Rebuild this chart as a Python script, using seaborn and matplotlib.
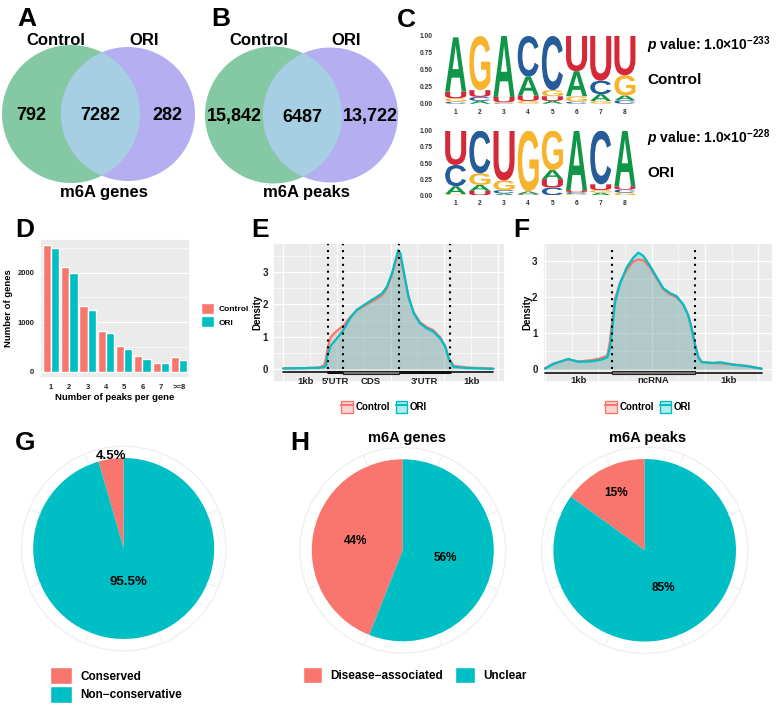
import numpy as np
import pandas as pd
import matplotlib
matplotlib.use('Agg')
import matplotlib.pyplot as plt
import matplotlib.transforms as mtransforms
import seaborn as sns
from matplotlib.patches import Circle, Rectangle, Patch, PathPatch
from matplotlib.lines import Line2D
from matplotlib.textpath import TextPath
from matplotlib.font_manager import FontProperties

# ---- data ----
venn_genes = [792, 7282, 282]
venn_peaks = ['15,842', '6487', '13,722']

# sequence logo probabilities, positions 1..8
ctrl_A = [0.80, 0.04, 0.90, 0.28, 0.04, 0.37, 0.10, 0.07]
ctrl_C = [0.03, 0.06, 0.01, 0.60, 0.80, 0.03, 0.20, 0.05]
ctrl_G = [0.05, 0.80, 0.01, 0.04, 0.09, 0.08, 0.04, 0.30]
ctrl_U = [0.10, 0.10, 0.08, 0.08, 0.07, 0.52, 0.66, 0.58]
ori_A = [0.12, 0.09, 0.03, 0.04, 0.14, 0.92, 0.04, 0.86]
ori_C = [0.33, 0.66, 0.05, 0.01, 0.12, 0.03, 0.83, 0.05]
ori_G = [0.02, 0.18, 0.15, 0.94, 0.61, 0.02, 0.04, 0.04]
ori_U = [0.53, 0.07, 0.77, 0.01, 0.13, 0.03, 0.09, 0.05]

peak_bins = ['1', '2', '3', '4', '5', '6', '7', '>=8']
genes_control = [2560, 2115, 1327, 830, 520, 310, 182, 290]
genes_ori = [2500, 2000, 1253, 775, 465, 250, 170, 230]

# metagene profile (mRNA)
e_pos = [0.00, 0.50, 0.80, 0.92, 0.96, 0.98, 1.02, 1.06, 1.12, 1.20, 1.35, 1.50, 1.65,
         1.87, 2.10, 2.21, 2.32, 2.43, 2.51, 2.57, 2.62, 2.69, 2.80, 2.92, 3.06, 3.21,
         3.36, 3.51, 3.62, 3.70, 3.81, 4.11, 4.70]
e_ctrl = [0.02, 0.03, 0.05, 0.12, 0.38, 0.55, 0.80, 0.98, 1.08, 1.18, 1.35, 1.62, 1.82,
          2.00, 2.18, 2.28, 2.50, 2.90, 3.30, 3.58, 3.48, 3.00, 2.25, 1.75, 1.45, 1.30,
          1.20, 0.98, 0.72, 0.35, 0.10, 0.05, 0.01]
e_ori = [0.02, 0.03, 0.04, 0.06, 0.12, 0.38, 0.55, 0.72, 0.82, 0.95, 1.22, 1.58, 1.84,
         2.04, 2.24, 2.34, 2.55, 2.96, 3.37, 3.68, 3.58, 3.06, 2.24, 1.72, 1.41, 1.26,
         1.15, 0.95, 0.70, 0.33, 0.07, 0.03, 0.01]
e_bounds = [0, 1, 1.34, 2.59, 3.72, 4.7]
e_regions = ['1kb', "5'UTR", 'CDS', "3'UTR", '1kb']

# metagene profile (ncRNA)
f_pos = [0.000, 0.125, 0.350, 0.500, 0.675, 0.825, 0.935, 0.975, 1.015, 1.050, 1.125,
         1.225, 1.325, 1.400, 1.475, 1.575, 1.675, 1.775, 1.875, 1.975, 2.075, 2.150,
         2.200, 2.250, 2.300, 2.350, 2.525, 2.625, 2.825, 3.025, 3.250]
f_ctrl = [0.03, 0.16, 0.28, 0.22, 0.25, 0.30, 0.38, 0.78, 1.45, 1.95, 2.40, 2.75, 3.00,
          3.05, 3.03, 2.83, 2.52, 2.22, 2.08, 2.00, 1.80, 1.50, 1.15, 0.70, 0.35, 0.21,
          0.17, 0.17, 0.14, 0.10, 0.02]
f_ori = [0.02, 0.15, 0.29, 0.21, 0.22, 0.26, 0.33, 0.60, 1.22, 1.85, 2.38, 2.83, 3.10,
         3.24, 3.15, 2.88, 2.56, 2.25, 2.12, 2.03, 1.80, 1.49, 1.13, 0.69, 0.33, 0.20,
         0.18, 0.20, 0.13, 0.09, 0.02]
f_bounds = [0, 1, 2.25, 3.25]
f_regions = ['1kb', 'ncRNA', '1kb']

conserv_labels = ['Conserved', 'Non\u2212conservative']
conserv_pct = [4.5, 95.5]
disease_labels = ['Disease\u2212associated', 'Unclear']
genes_pct = [44, 56]
peaks_pct = [15, 85]

# ---- style ----
salmon = '#F8766D'
teal = '#00BFC4'
base_cols = {'A': '#109648', 'C': '#255C99', 'G': '#F7B32B', 'U': '#D62839'}

sns.set_theme(style='darkgrid', rc={'axes.facecolor': '#EBEBEB', 'grid.color': 'white',
                                    'grid.linewidth': 0.9})
plt.rcParams['font.family'] = ['Liberation Sans', 'DejaVu Sans']
plt.rcParams['font.weight'] = 'bold'
plt.rcParams['axes.labelweight'] = 'bold'
plt.rcParams['text.color'] = 'black'
plt.rcParams['axes.labelcolor'] = 'black'
plt.rcParams['mathtext.fontset'] = 'custom'
plt.rcParams['mathtext.rm'] = 'Liberation Sans:bold'
plt.rcParams['mathtext.it'] = 'Liberation Sans:italic:bold'
plt.rcParams['mathtext.bf'] = 'Liberation Sans:bold'

W, H = 784, 724
fig = plt.figure(figsize=(W / 100, H / 100), dpi=100)


def px_axes(l, t, r, b):
    return fig.add_axes([l / W, 1 - b / H, (r - l) / W, (b - t) / H])


# overlay for venns, panel letters and free text
ax0 = fig.add_axes([0, 0, 1, 1])
ax0.set_xlim(0, W)
ax0.set_ylim(H, 0)
ax0.axis('off')

for lab, (x, y) in zip('ABCDEFGH', [(27, 19), (221, 19), (406, 20), (25, 230),
                                     (260, 230), (521, 230), (25, 443), (300, 443)]):
    ax0.text(x, y, lab, fontsize=19, weight='bold', ha='center', va='center')


# ---- A / B venns ----
def venn(cl, r1, cr, r2, nums, title):
    green, purple, mix = '#84C9A3', '#B5AEF0', '#A7CFE3'
    c1 = Circle(cl, r1, fc=green, ec='none')
    c2 = Circle(cr, r2, fc=purple, ec='none')
    ax0.add_patch(c1)
    ax0.add_patch(c2)
    c3 = Circle(cl, r1, fc=mix, ec='none')
    ax0.add_patch(c3)
    c3.set_clip_path(c2)
    y = cl[1]
    x_l = cl[0] - r1
    x_r = cr[0] + r2
    ov_l, ov_r = cr[0] - r2, cl[0] + r1
    for x, n in zip([(x_l + ov_l) / 2, (ov_l + ov_r) / 2, (ov_r + x_r) / 2], nums):
        ax0.text(x, y + 2, str(n), fontsize=13, weight='bold', ha='center', va='center')
    ax0.text(cl[0] - 15, 40.5, 'Control', fontsize=12, weight='bold', ha='center', va='center')
    ax0.text(cr[0] + 16, 40.5, 'ORI', fontsize=12, weight='bold', ha='center', va='center')
    ax0.text((x_l + x_r) / 2 + 5, 193, title, fontsize=12, weight='bold', ha='center', va='center')


venn((71, 114), 69, (128, 114), 67, venn_genes, 'm6A genes')
venn((273.5, 115), 68.5, (330.5, 115), 67.5, venn_peaks, 'm6A peaks')

# ---- C sequence logos ----
fp = FontProperties(family='Liberation Sans', weight='bold')


def draw_logo(ax, cols):
    for i in range(8):
        stack = sorted([(cols[b][i], b) for b in 'ACGU'])
        y0 = 0
        for h, b in stack:
            tp = TextPath((0, 0), b, size=1, prop=fp)
            bb = tp.get_extents()
            tr = (mtransforms.Affine2D().translate(-bb.x0, -bb.y0)
                  .scale(0.87 / bb.width, h / bb.height).translate(i + 1 - 0.435, y0))
            ax.add_patch(PathPatch(tr.transform_path(tp), fc=base_cols[b], ec='none'))
            y0 += h
    ax.set_xlim(0.5, 8.5)
    ax.set_ylim(0, 1)
    ax.set_facecolor('white')
    ax.grid(False)
    for s in ax.spines.values():
        s.set_visible(False)
    ax.set_xticks(range(1, 9))
    ax.set_yticks([0, 0.25, 0.5, 0.75, 1.0])
    ax.set_yticklabels(['0.00', '0.25', '0.50', '0.75', '1.00'])
    ax.tick_params(axis='x', length=0, labelsize=4.8, pad=3.5, colors='#333333')
    ax.tick_params(axis='y', length=0, labelsize=4.8, pad=8, colors='#333333')


axC1 = px_axes(443.6, 36, 637, 103.7)
draw_logo(axC1, {'A': ctrl_A, 'C': ctrl_C, 'G': ctrl_G, 'U': ctrl_U})
axC2 = px_axes(443.6, 130.7, 637, 195.3)
draw_logo(axC2, {'A': ori_A, 'C': ori_C, 'G': ori_G, 'U': ori_U})

ax0.text(647, 45, r'$\mathit{p}$ value: 1.0×10$^{-233}$', fontsize=10, weight='bold', va='center')
ax0.text(647, 80, 'Control', fontsize=11, weight='bold', va='center')
ax0.text(647, 138, r'$\mathit{p}$ value: 1.0×10$^{-228}$', fontsize=10, weight='bold', va='center')
ax0.text(647, 173, 'ORI', fontsize=11, weight='bold', va='center')

# ---- D bar chart ----
df_d = pd.DataFrame({'bins': peak_bins * 2,
                     'count': genes_control + genes_ori,
                     'group': ['Control'] * 8 + ['ORI'] * 8})
axD = px_axes(40, 238.6, 190, 378)
sns.barplot(data=df_d, x='bins', y='count', hue='group', palette=[salmon, teal],
            width=0.9, saturation=1, legend=False, ax=axD)
axD.set_xlim(-0.6, 7.6)
axD.set_ylim(-128, 2688)
axD.set_yticks([0, 1000, 2000])
axD.set_yticks([500, 1500, 2500], minor=True)
axD.grid(which='minor', axis='y', color='white', lw=0.45)
axD.tick_params(length=2.5, width=0.6, color='#333333', labelsize=5.5, pad=1.5, labelcolor='#222222')
axD.tick_params(which='minor', length=0)
axD.set_xlabel('Number of peaks per gene', fontsize=6.8, labelpad=2)
axD.set_ylabel('Number of genes', fontsize=6.8, labelpad=3)
fig.legend(handles=[Patch(fc=salmon), Patch(fc=teal)], labels=['Control', 'ORI'],
           loc='center left', bbox_to_anchor=(201 / W, 1 - 315 / H), frameon=False,
           fontsize=6, handlelength=1.6, handleheight=1.6, handletextpad=0.5,
           labelspacing=0.35, borderpad=0, borderaxespad=0)


# ---- E / F metagene profiles ----
def profile(ax, pos, ctrl, ori, bounds, regions, ylim, xlim, grid_step, bar_y, lab_y, utr):
    df = pd.DataFrame({'pos': pos * 2, 'density': ctrl + ori,
                       'group': ['Control'] * len(pos) + ['ORI'] * len(pos)})
    ax.fill_between(pos, ctrl, color=salmon, alpha=0.25, lw=0)
    ax.fill_between(pos, ori, color=teal, alpha=0.25, lw=0)
    sns.lineplot(data=df, x='pos', y='density', hue='group', palette=[salmon, teal],
                 lw=1.6, legend=False, ax=ax)
    ax.set_xlim(*xlim)
    ax.set_ylim(*ylim)
    ax.set_xticks(np.arange(0, xlim[1], grid_step * 2))
    ax.set_xticks(np.arange(grid_step, xlim[1], grid_step * 2), minor=True)
    ax.set_xticklabels([])
    ax.set_yticks([0, 1, 2, 3])
    ax.set_yticks([0.5, 1.5, 2.5, 3.5], minor=True)
    ax.grid(which='minor', color='white', lw=0.45)
    ax.tick_params(axis='x', which='both', length=0)
    ax.tick_params(axis='y', length=2.5, width=0.6, color='#333333', labelsize=7, pad=1.2,
                   labelcolor='#222222')
    ax.tick_params(axis='y', which='minor', length=0)
    ax.set_xlabel('')
    ax.set_ylabel('Density', fontsize=7, labelpad=0)
    ax.vlines(bounds[1:-1], 0, ylim[1], colors='black', lw=1.5, linestyles=(0, (1, 2.3)))
    # gene structure
    ax.plot([bounds[0], bounds[-1]], [bar_y, bar_y], color='#111111', lw=1.2)
    for i, kind in enumerate(utr):
        if kind == 'utr':
            ax.plot([bounds[i], bounds[i + 1]], [bar_y, bar_y], color='#111111', lw=2.2)
        elif kind == 'box':
            ax.add_patch(Rectangle((bounds[i], bar_y - 0.05), bounds[i + 1] - bounds[i], 0.1,
                                   fc='#7A7A7A', ec='#222222', lw=0.8, zorder=3))
    for i, r in enumerate(regions):
        ax.text((bounds[i] + bounds[i + 1]) / 2, lab_y, r, fontsize=6.8, weight='bold',
                ha='center', va='center', color='#222222')


axE = px_axes(273, 243, 505, 382)
profile(axE, e_pos, e_ctrl, e_ori, e_bounds, e_regions, (-0.40, 3.90), (-0.23, 4.96), 0.6,
        -0.10, -0.37, ['line', 'utr', 'box', 'utr', 'line'])
axF = px_axes(542.7, 243.3, 773, 382)
profile(axF, f_pos, f_ctrl, f_ori, f_bounds, f_regions, (-0.35, 3.37), (-0.034, 3.42), 0.4,
        -0.09, -0.32, ['line', 'box', 'line'])

for cx in [384, 648]:
    hs = [(Patch(fc=(*matplotlib.colors.to_rgb(c), 0.3), ec=c, lw=1.0),
           Line2D([], [], color=c, lw=1.5)) for c in [salmon, teal]]
    fig.legend(handles=hs, labels=['Control', 'ORI'], loc='center',
               bbox_to_anchor=(cx / W, 1 - 407 / H), ncol=2, frameon=False, fontsize=7,
               handlelength=1.2, handleheight=1.6, handletextpad=0.25, columnspacing=0.6)


# ---- G / H pies ----
def pie(cx, cy, R, pct, lab_r, fsize):
    s = R * 1.25
    ax = px_axes(cx - s, cy - s, cx + s, cy + s)
    ax.pie(pct, colors=[salmon, teal], startangle=90, counterclock=True, radius=1,
           wedgeprops=dict(lw=0))
    ax.set_xlim(-1.25, 1.25)
    ax.set_ylim(-1.25, 1.25)
    ring = Circle((0, 0), 1.13, fill=False, ec='#F0F0F0', lw=1.0)
    ax.add_patch(ring)
    for a in np.deg2rad(np.arange(22.5, 360, 45)):
        ax.plot([np.cos(a), 1.13 * np.cos(a)], [np.sin(a), 1.13 * np.sin(a)],
                color='#F0F0F0', lw=0.8)
    cum = 0
    for p, rr in zip(pct, lab_r):
        mid = np.deg2rad(90 + 3.6 * (cum + p / 2))
        cum += p
        ax.text(rr * np.cos(mid), rr * np.sin(mid), f'{p:g}%', fontsize=fsize,
                weight='bold', ha='center', va='center')
    return ax


pie(123.7, 548.5, 90.5, conserv_pct, [1.03, 0.37], 9.5)
pie(402.8, 550.3, 91, genes_pct, [0.53, 0.48], 8.5)
pie(644.7, 550.3, 91.3, peaks_pct, [0.70, 0.46], 8.5)

ax0.text(406.7, 438.3, 'm6A genes', fontsize=10.5, weight='bold', ha='center', va='center')
ax0.text(647.3, 438.3, 'm6A peaks', fontsize=10.5, weight='bold', ha='center', va='center')

fig.legend(handles=[Patch(fc=salmon), Patch(fc=teal)], labels=conserv_labels,
           loc='upper left', bbox_to_anchor=(50 / W, 1 - 667 / H), frameon=False,
           fontsize=8.5, handlelength=1.9, handleheight=1.9, labelspacing=0.1,
           handletextpad=0.7, borderpad=0, borderaxespad=0)
fig.legend(handles=[Patch(fc=salmon), Patch(fc=teal)], labels=disease_labels,
           loc='upper left', bbox_to_anchor=(303 / W, 1 - 667 / H), frameon=False, ncol=2,
           fontsize=8.5, handlelength=1.65, handleheight=1.65, handletextpad=0.7,
           columnspacing=1.0, borderpad=0, borderaxespad=0)

fig.savefig('out.png', dpi=100)
